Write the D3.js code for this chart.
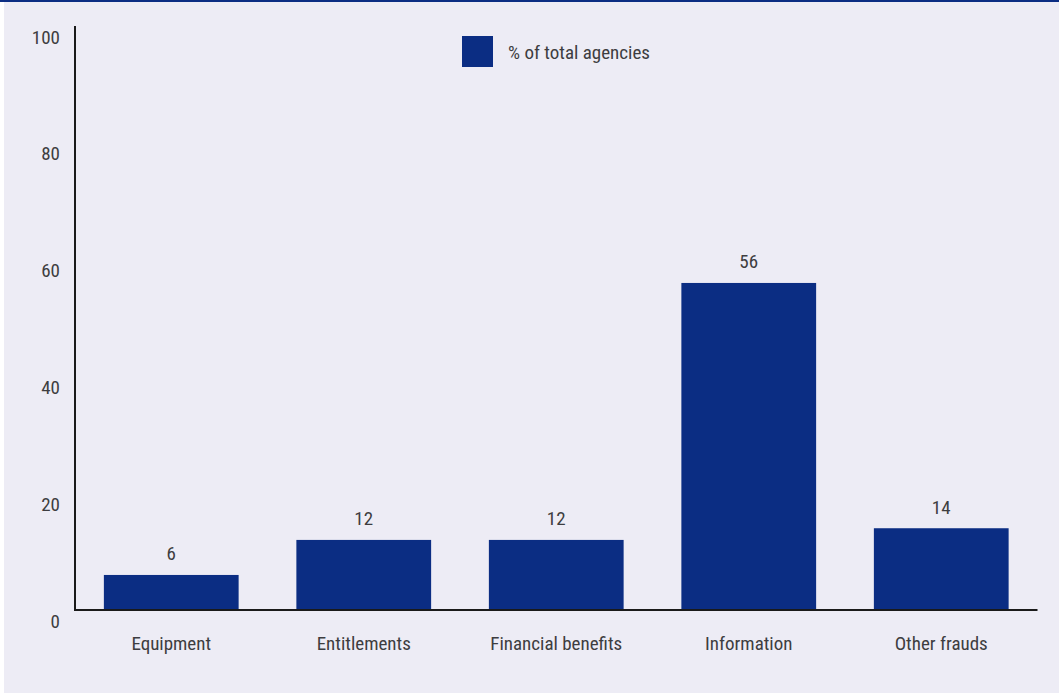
<!DOCTYPE html>
<html><head><meta charset="utf-8">
<script src="https://cdn.jsdelivr.net/npm/d3@7"></script>
<style>
html,body{margin:0;padding:0;background:#fff;}
svg{display:block;}
text{font-family:"Liberation Sans Narrow","Arial Narrow","Roboto Condensed","Liberation Sans",sans-serif;fill:#3d3d40;}
</style></head><body>
<svg id="c" width="1059" height="694"></svg>
<script>
const categories = ["Equipment","Entitlements","Financial benefits","Information","Other frauds"];
const values = [6,12,12,56,14];
const yTicks = [0,20,40,60,80,100];
const seriesName = "% of total agencies";

const svg = d3.select("#c");
const W = 1059, H = 694;
svg.append("rect").attr("x",4).attr("y",0).attr("width",W-4).attr("height",H-1).attr("fill","#edecf5");
svg.append("rect").attr("x",0).attr("y",0).attr("width",W).attr("height",2).attr("fill","#0b2d83");

const x = d3.scaleBand().domain(categories).range([75,1037.5]).paddingInner(0.3).paddingOuter(0.15);
const y = d3.scaleLinear().domain([0,100]).range([610,26]);
const barColor = "#0b2d83";

svg.selectAll("rect.bar").data(values).join("rect").attr("class","bar")
  .attr("x",(d,i)=>x(categories[i])).attr("width",x.bandwidth())
  .attr("y",d=>y(d)).attr("height",d=>y(0)-y(d)).attr("fill",barColor);

svg.selectAll("text.val").data(values).join("text").attr("class","val")
  .attr("x",(d,i)=>x(categories[i])+x.bandwidth()/2).attr("y",d=>y(d)-21)
  .attr("text-anchor","middle").attr("dominant-baseline","central")
  .attr("font-size",19).text(d=>d);

// axes
svg.append("line").attr("x1",75).attr("x2",75).attr("y1",y(100)).attr("y2",y(0)+1)
  .attr("stroke","#1a1a1a").attr("stroke-width",2);
svg.append("line").attr("x1",74).attr("x2",1037.5).attr("y1",y(0)).attr("y2",y(0))
  .attr("stroke","#1a1a1a").attr("stroke-width",2);

svg.selectAll("text.yt").data(yTicks).join("text").attr("class","yt")
  .attr("x",60).attr("y",d=>y(d)+11).attr("text-anchor","end").attr("dominant-baseline","central")
  .attr("font-size",19).text(d=>d);

svg.selectAll("text.xt").data(categories).join("text").attr("class","xt")
  .attr("x",d=>x(d)+x.bandwidth()/2).attr("y",643).attr("text-anchor","middle").attr("dominant-baseline","central")
  .attr("font-size",19).text(d=>d);

// legend
svg.append("rect").attr("x",462).attr("y",36).attr("width",31).attr("height",31).attr("fill",barColor);
svg.append("text").attr("x",508).attr("y",52).attr("dominant-baseline","central").attr("font-size",19).text(seriesName);
</script>
</body></html>
